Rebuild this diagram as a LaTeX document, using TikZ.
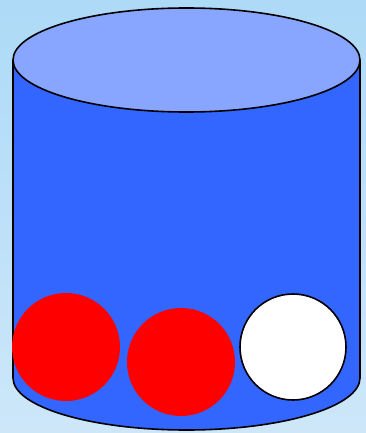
\documentclass[tikz,border=0pt]{standalone}
\begin{document}
\begin{tikzpicture}[x=1pt,y=-1pt,
  outline/.style={draw=black,line width=1.6pt}]
\definecolor{bgtop}{HTML}{ADDAF7}
\definecolor{bgbot}{HTML}{CDE7F9}
\definecolor{body}{HTML}{3366FF}
\definecolor{lid}{HTML}{88A6FF}
\useasboundingbox (0,0) rectangle (366,433);
\shade[top color=bgtop,bottom color=bgbot] (0,0) rectangle (366,433);
% body
\path[fill=body] (13,60) -- (13,378) arc[start angle=180,end angle=0,x radius=173.5,y radius=52] -- (360,60) -- cycle;
\draw[outline] (13,60) -- (13,378) arc[start angle=180,end angle=0,x radius=173.5,y radius=52] -- (360,60);
% lid
\draw[outline,fill=lid] (186.5,60) ellipse[x radius=173.5,y radius=52];
% balls
\fill[red] (66,347) circle[radius=54];
\fill[red] (181,362) circle[radius=54];
\draw[outline,fill=white] (293,347) circle[radius=53];
\end{tikzpicture}
\end{document}
